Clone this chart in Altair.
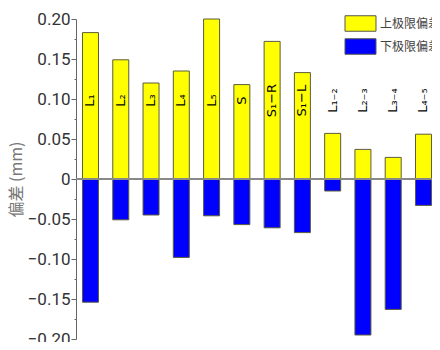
import altair as alt
import pandas as pd

categories = ["L1", "L2", "L3", "L4", "L5", "S", "S1-R", "S1-L", "L1-2", "L2-3", "L3-4", "L4-5"]
bar_labels = ["L₁", "L₂", "L₃", "L₄", "L₅", "S", "S₁−R", "S₁−L", "L₁₋₂", "L₂₋₃", "L₃₋₄", "L₄₋₅"]
upper = [0.183, 0.149, 0.120, 0.135, 0.200, 0.118, 0.172, 0.133, 0.057, 0.037, 0.027, 0.056]
lower = [-0.154, -0.051, -0.045, -0.098, -0.046, -0.057, -0.061, -0.067, -0.015, -0.195, -0.163, -0.033]
series = ["上极限偏差", "下极限偏差"]
y_ticks = [round(-0.2 + 0.025 * i, 3) for i in range(17)]
label_anchor = 0.098

rows = []
for c, u, l in zip(categories, upper, lower):
    rows.append({"cat": c, "type": series[0], "value": u})
    rows.append({"cat": c, "type": series[1], "value": l})
df = pd.DataFrame(rows)
lab = pd.DataFrame({"cat": categories, "label": bar_labels, "pos": [label_anchor] * len(categories)})

xscale = alt.Scale(domain=categories, paddingInner=0.4714, paddingOuter=0.116, align=0.925)
yscale = alt.Scale(domain=[-0.2, 0.2], nice=False)

minor_test = "abs((datum.value * 1000) % 50) > 1"
yaxis = alt.Axis(
    values=y_ticks,
    tickCount=40,
    labelExpr=f"{minor_test} ? '' : (abs(datum.value) < 0.0001 ? '0' : replace(format(datum.value, '.2f'), '-', '−'))",
    labelOverlap=False,
    tickSize={"condition": {"test": minor_test, "value": 2}, "value": 5},
    grid=False,
    domainColor="#666",
    tickColor="#666",
    labelColor="#333",
    labelFont="Roboto",
    labelFontSize=17,
    labelPadding=1,
    title="偏差 (mm)",
    titleFont="Noto Sans CJK SC",
    titleFontSize=16,
    titleFontWeight="normal",
    titleColor="#777",
    titlePadding=3,
)

bars = alt.Chart(df).mark_bar(stroke="#5c5c3d", strokeWidth=1).encode(
    x=alt.X("cat:N", scale=xscale, axis=None, sort=categories),
    y=alt.Y("value:Q", scale=yscale, axis=yaxis, stack=None),
    color=alt.Color(
        "type:N",
        scale=alt.Scale(domain=series, range=["#ffff00", "#0000ff"]),
        legend=alt.Legend(
            title=None,
            orient="none",
            legendX=276,
            legendY=-4,
            padding=0,
            symbolType="M-2,-1H2V1H-2Z",
            symbolSize=240,
            symbolStrokeColor="#555",
            symbolStrokeWidth=1,
            symbolOpacity=1,
            labelFont="Noto Sans CJK SC",
            labelFontSize=12,
            labelColor="#444",
            labelOffset=11,
            rowPadding=2,
            labelLimit=200,
        ),
    ),
)

zero = alt.Chart(df).mark_rule(color="#888", strokeWidth=1).encode(y=alt.datum(0))

texts = alt.Chart(lab).mark_text(
    angle=270, align="center", baseline="middle", font="DejaVu Sans", fontSize=13, color="#000"
).encode(
    x=alt.X("cat:N", scale=xscale, axis=None, sort=categories),
    y=alt.Y("pos:Q", scale=yscale),
    text="label:N",
)

chart = (
    alt.layer(bars, zero, texts)
    .properties(
        width=356,
        height=320,
        padding={"left": 68, "top": 11, "right": 0, "bottom": 3},
        autosize=alt.AutoSizeParams(type="none"),
    )
    .configure_view(stroke="transparent")
)

chart.save("out.html", embed_options={"renderer": "svg", "actions": False})
